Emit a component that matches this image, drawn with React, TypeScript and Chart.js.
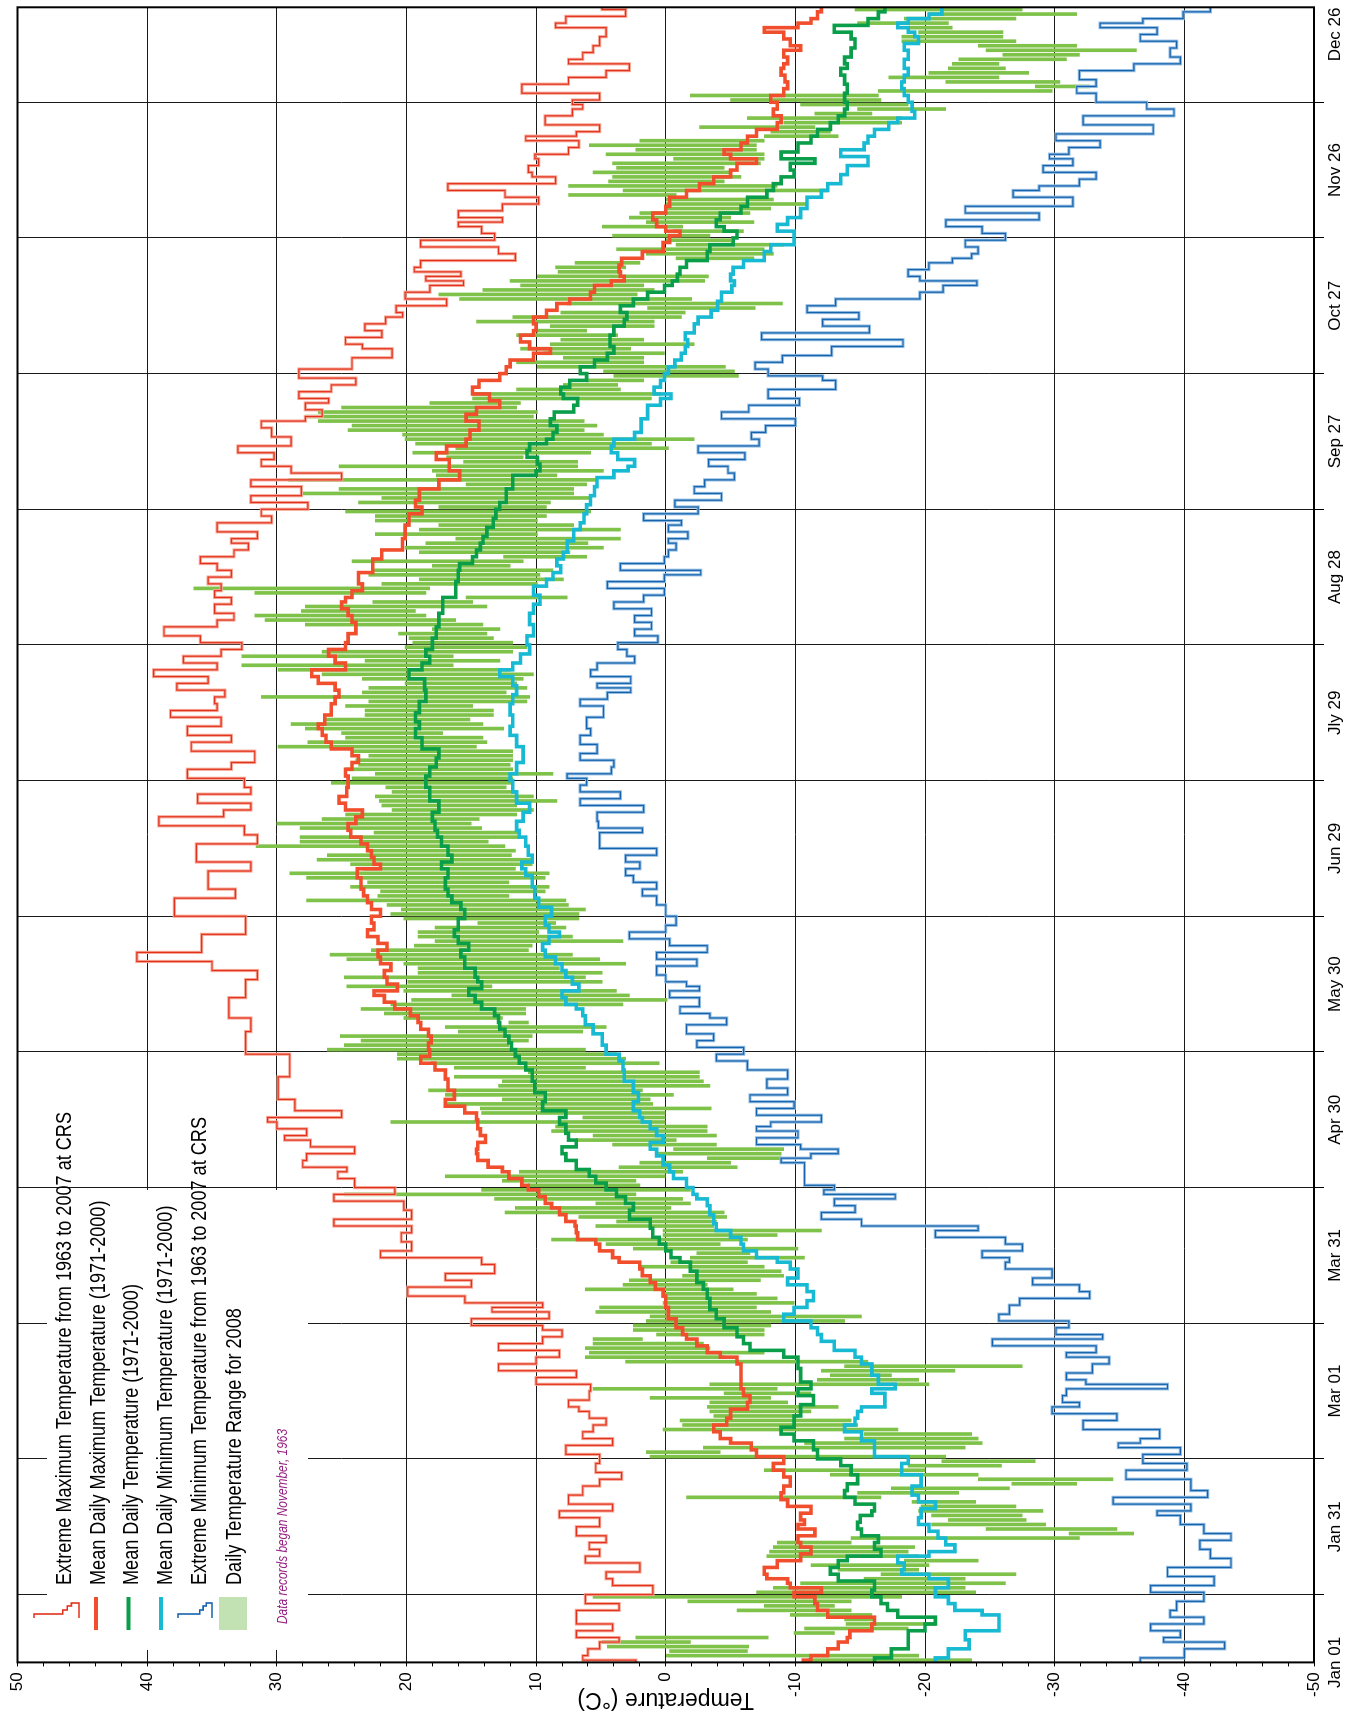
import React, { useEffect, useRef } from 'react';
import { Chart, registerables } from 'chart.js';

Chart.register(...registerables);

// ---- canvas (landscape; the whole chart is rotated -90deg on the page) ----
const W = 1714;
const H = 1355;

// ---- axes ----
const dateTickDays = [0, 30, 60, 90, 120, 150, 180, 210, 240, 270, 300, 330, 360];
const dateLabels = ['Jan 01', 'Jan 31', 'Mar 01', 'Mar 31', 'Apr 30', 'May 30', 'Jun 29', 'Jly 29', 'Aug 28', 'Sep 27', 'Oct 27', 'Nov 26', 'Dec 26'];
const dayMax = 366;
const tempMin = -50;
const tempMax = 50;
const tempMajorStep = 10;
const tempMinorStep = 2;
const yTitle = 'Temperature (°C)';

// ---- legend ----
const legendLabels = [
  'Extreme Maximum Temperature from 1963 to 2007 at CRS',
  'Mean Daily Maximum Temperature (1971-2000)',
  'Mean Daily Temperature (1971-2000)',
  'Mean Daily Minimum Temperature (1971-2000)',
  'Extreme Minimum Temperature from 1963 to 2007 at CRS',
  'Daily Temperature Range for 2008',
];
const noteText = 'Data records began November, 1963';

// ---- series: [day of year (0 = Jan 01), °C] ----
const meanMax: [number, number][] = [
  [0,-10.6],[1,-11.2],[2,-12.5],[4,-13.3],[5,-14],[6,-14.2],[8,-15.9],[9,-16.1],[11,-12.5],[12,-11.7],[14,-11.5],[15,-9.9],[16,-12],[17,-9.6],[18,-9.4],[19,-7.8],[20,-7.6],[22,-8.6],[23,-10.4],[25,-11.2],[26,-10.4],[27,-10.2],[29,-11.5],[30,-10.2],[31,-10.7],[32,-10.4],[34,-11.2],[35,-9.4],[37,-8.9],[38,-9.1],[40,-9.6],[42,-9.1],[43,-8.3],[45,-9.1],[46,-7],[48,-6.6],[49,-5],[50,-4.2],[52,-3.7],[53,-4.7],[55,-5],[57,-6.3],[58,-6.5],[60,-6],[61,-5.8],[65,-5.8],[67,-5.5],[68,-4.2],[69,-3.2],[71,-2.4],[72,-1.6],[73,-1.3],[75,-0.8],[77,-0.2],[80,0],[82,0.2],[83,0.8],[85,1.2],[86,1.8],[88,2],[89,3.6],[90,4.1],[92,5.1],[93,5.4],[94,6.8],[96,6.9],[97,7],[98,7.7],[100,8.2],[101,8.8],[102,9.3],[104,9.8],[105,10.6],[106,11.1],[108,12.1],[109,12.6],[110,13.7],[112,14.5],[113,14.6],[114,14.5],[116,13.9],[117,14.3],[119,14.5],[121,14.6],[122,15.5],[124,17],[125,16.3],[128,16.8],[130,17],[132,17.8],[133,18.9],[135,18.2],[136,18.3],[138,18.1],[139,18.3],[141,18.9],[142,19.1],[144,19.7],[145,20.9],[147,21.7],[148,22.5],[149,20.7],[151,21.5],[152,21.7],[154,21.2],[155,22],[157,22.2],[158,21.5],[160,22.2],[161,23],[163,22.5],[164,22.7],[166,22],[167,22.7],[169,23],[170,23.3],[172,23.5],[175,23.8],[176,22],[177,22.5],[179,22.7],[180,23],[182,23.5],[183,24.3],[185,24.5],[186,23.9],[188,23.4],[189,24.7],[191,25.2],[192,24.6],[195,24.5],[197,24.7],[198,24.2],[200,23.7],[201,24.2],[203,25.8],[204,26.2],[206,26.5],[207,26.8],[208,26.3],[211,25.8],[213,25.5],[214,25.2],[216,25.5],[217,26.8],[219,27.3],[220,24.7],[222,25.5],[223,26],[225,24.7],[226,24.5],[229,23.9],[231,24.2],[232,24.5],[234,25],[235,24.7],[236,24.2],[238,23.4],[239,23.7],[243,22.6],[245,21.9],[247,20.3],[250,20.1],[253,19.8],[255,18.8],[256,19.3],[258,19],[261,17.5],[262,15.9],[265,16.7],[267,17.7],[268,16.9],[270,15.4],[271,15.1],[274,14.4],[275,15.4],[277,14.6],[278,12.8],[280,13.6],[281,14.9],[283,14.4],[284,12.8],[286,12.3],[287,12],[289,10.2],[290,8.9],[291,10.5],[293,11.2],[294,10.2],[295,10],[297,10.2],[298,9.2],[300,8.4],[301,7.4],[302,5.8],[304,5.5],[305,4.2],[306,3.2],[307,3.5],[308,3.6],[310,3.4],[311,1.8],[313,0.2],[315,-0.3],[316,-1.1],[317,0],[318,0.7],[320,1],[321,0],[323,-0.3],[325,-1.6],[326,-2.6],[328,-3.7],[329,-5],[331,-5.5],[332,-7],[333,-5],[334,-4.5],[335,-5.8],[337,-6.3],[338,-7],[340,-8.6],[341,-8.9],[343,-8.3],[344,-8.6],[346,-8.1],[347,-9.1],[349,-9.4],[350,-9.2],[352,-8.9],[353,-9.1],[354,-9.4],[356,-9.1],[357,-10.4],[358,-9.6],[360,-9.1],[361,-7.6],[362,-10.2],[363,-11.2],[364,-11.7],[366,-12],
];

const meanDaily: [number, number][] = [
  [0,-16.1],[2,-17.4],[4,-18.7],[6,-18.7],[8,-20],[9,-20.8],[11,-17.9],[12,-17.1],[14,-16.6],[15,-15.9],[17,-16.1],[19,-13.3],[20,-12.7],[22,-13.3],[23,-14],[24,-16.6],[26,-16.1],[27,-16.4],[29,-15.1],[30,-14.8],[32,-15],[33,-15.9],[34,-16.1],[36,-14.6],[37,-13.8],[39,-14],[40,-14.8],[43,-14.3],[44,-13.5],[46,-11.7],[48,-11.4],[50,-9.9],[51,-8.9],[53,-9.9],[56,-10.4],[58,-11.4],[60,-10.2],[61,-11.2],[63,-10.4],[67,-10.2],[68,-9.1],[70,-6.5],[71,-6],[73,-5.5],[75,-4.5],[77,-3.9],[79,-3.4],[82,-3.2],[83,-2.9],[85,-2.4],[88,-1.9],[89,-1.1],[90,-0.4],[92,0],[93,0.5],[95,1],[97,1.2],[99,2.8],[101,2.5],[102,3.1],[104,3.8],[105,4.6],[107,5.4],[108,5.9],[110,6.9],[112,7.7],[113,8],[115,6.9],[116,7.5],[118,7.7],[120,8.2],[121,7.7],[123,9.5],[125,9.3],[127,10.1],[130,10.3],[132,10.8],[133,11.3],[135,11.6],[136,11.9],[138,12.1],[139,12.4],[141,12.8],[142,12.9],[144,13.2],[145,14.2],[147,14.7],[148,15.2],[150,14.2],[151,14.5],[152,14.7],[155,15.5],[157,15.8],[158,15.2],[160,16],[161,16.3],[163,16],[166,15.5],[167,15.8],[169,16.5],[170,16.8],[172,17],[175,16.8],[176,17.3],[178,16.5],[179,16.8],[182,17.3],[183,17.6],[185,17.8],[187,18],[189,17.5],[192,18.2],[195,18.5],[197,18.2],[199,17.7],[201,17.5],[203,18.8],[206,19.3],[207,19],[209,19.3],[211,19],[214,18.5],[216,18.6],[219,19.8],[220,18.8],[222,18.2],[223,18.5],[225,18],[228,17.7],[230,17.5],[234,17.2],[237,16.2],[241,16],[242,15.9],[244,14.9],[245,14.6],[247,14.3],[248,14.1],[250,13.8],[252,13.3],[254,13.1],[256,12.8],[257,12.3],[262,11.8],[263,10],[264,9.7],[266,9.9],[267,10.7],[269,10.5],[270,9.2],[271,8.7],[273,8.4],[274,8.9],[276,8.6],[277,7.1],[279,6.8],[280,7.9],[281,8.1],[283,7.4],[284,6.1],[286,6.6],[287,5.5],[289,4.5],[290,4],[292,4.3],[295,4],[296,3.2],[298,3],[299,3.5],[301,2.5],[302,1.4],[304,0.1],[305,-0.5],[306,-0.9],[308,-1.1],[309,-1.6],[311,-3.2],[313,-3.4],[314,-5.2],[316,-5.5],[317,-4.5],[318,-3.9],[320,-4.2],[321,-5.8],[323,-6.3],[325,-7.8],[326,-8.3],[328,-8.9],[329,-9.9],[331,-9.6],[332,-11.5],[333,-8.9],[335,-10.2],[337,-11.2],[338,-11.7],[340,-12.7],[341,-13.3],[343,-13.8],[344,-14],[346,-13.8],[348,-14],[350,-13.8],[352,-13.5],[353,-14],[354,-13.8],[356,-14.3],[358,-14.6],[360,-14.3],[361,-13],[363,-15.6],[364,-16.4],[366,-16.9],
];

const meanMin: [number, number][] = [
  [0,-20.8],[2,-21.8],[4,-23.4],[6,-23.1],[8,-25.7],[10,-25.7],[11,-24.4],[12,-22.3],[14,-21.8],[15,-20.8],[18,-21.8],[19,-20.3],[20,-18.2],[21,-18.4],[23,-17.9],[24,-20.3],[25,-22.3],[27,-21.6],[28,-21],[30,-20.3],[31,-19.5],[33,-19.7],[35,-20.8],[36,-19.5],[38,-19],[40,-19.7],[43,-18.2],[45,-18.7],[46,-16.1],[48,-16.1],[50,-15.1],[52,-13.8],[53,-14.6],[55,-14.8],[56,-15.1],[57,-16.9],[59,-16.9],[60,-15.9],[61,-17.7],[62,-16.4],[65,-15.9],[67,-15.1],[68,-14.6],[70,-13],[72,-12],[73,-11.7],[75,-11.2],[76,-9.1],[78,-9.9],[79,-10.9],[81,-11.4],[83,-10.9],[84,-9.4],[86,-10.2],[88,-9.6],[89,-8.6],[90,-7],[92,-6],[93,-5.8],[95,-5],[96,-3.9],[98,-3.7],[100,-3.4],[102,-3.2],[103,-2.4],[104,-2.1],[106,-1.6],[108,-0.6],[109,-0.3],[111,0.2],[113,0.7],[114,1.2],[116,0.2],[117,0.7],[119,1.2],[120,1.8],[121,2],[123,2.5],[125,2.1],[127,2.5],[130,3.2],[132,3.3],[134,3.6],[135,4.6],[138,4.9],[140,5.6],[142,6.2],[144,6.4],[145,6.9],[146,7.7],[148,8],[149,6.7],[151,7.2],[152,7.7],[154,8],[155,8.5],[157,9.3],[158,9.5],[160,9],[161,8.2],[162,9],[164,9.3],[166,8.8],[168,9.8],[170,10.1],[173,10.3],[175,10.8],[176,11.1],[178,10.3],[179,10.6],[182,10.8],[183,11.3],[185,11.5],[187,11],[189,10.5],[191,11.5],[194,11.8],[196,12],[197,11.5],[201,11],[204,11.5],[206,12],[208,11.8],[211,12],[213,11.8],[215,11.5],[217,11.8],[219,12.8],[220,11.8],[222,11.2],[224,10.5],[226,10.7],[228,10.2],[231,10.5],[233,10.2],[235,9.7],[237,10.2],[239,9.2],[240,8.7],[242,8.1],[243,8.4],[245,7.9],[246,7.6],[250,7.1],[251,6.6],[253,6.3],[255,6.1],[257,5.8],[259,5.5],[261,5.3],[263,4],[264,2.9],[265,2.4],[267,3.7],[268,4.2],[270,4],[271,2.4],[273,1.9],[277,1.4],[279,0.4],[280,-0.4],[281,0.9],[283,0.4],[284,0.1],[286,-0.2],[287,-0.7],[289,-1.2],[290,-1.5],[292,-1.7],[293,-1.5],[295,-2.2],[297,-2.5],[298,-3.5],[300,-4],[302,-4.3],[304,-5.1],[305,-5.3],[306,-5],[308,-5.2],[309,-6],[311,-7.6],[313,-8.1],[314,-9.9],[316,-9.9],[317,-8.6],[319,-9.4],[320,-10.4],[323,-10.9],[325,-12],[326,-12.5],[328,-13.5],[330,-14],[332,-15.6],[334,-13.5],[335,-15.3],[337,-15.6],[338,-16.1],[340,-17.2],[341,-17.9],[342,-19.2],[344,-19],[346,-18.7],[347,-18.4],[349,-18.2],[350,-18.4],[352,-18.7],[353,-18.4],[356,-18.7],[357,-18.4],[359,-19.5],[360,-19.2],[361,-18.7],[362,-17.9],[363,-18.7],[364,-20.3],[365,-21.3],[366,-21.3],
];

const extremeMax: [number, number][] = [
  [0,2.3],[1,6.4],[2,6],[4,5.1],[5,3.6],[6,6.9],[8,4.1],[9,6.9],[11,6.9],[12,3.6],[14,6.2],[16,1],[18,4.1],[19,4.6],[21,2],[23,6.2],[24,5.1],[26,5.9],[27,4.6],[29,6.9],[31,5.1],[33,8.2],[34,4.1],[36,7.5],[38,6.4],[40,5.1],[41,3.4],[43,5.4],[45,5.1],[47,7.7],[49,4.1],[50,6.4],[52,5.6],[53,4.6],[55,5.9],[56,6.7],[57,7.5],[59,5.9],[61,5.8],[62,10],[64,6.9],[65,12.9],[67,10],[68,8.2],[70,12.9],[71,9.5],[73,8],[74,9.5],[75,15],[77,9],[78,13.4],[79,9.5],[80,15.5],[82,19.9],[84,15],[85,17],[87,13.2],[89,14.2],[90,22],[92,19.6],[94,20.4],[96,19.6],[97,25.6],[99,19.6],[101,20.2],[103,25.6],[104,20.9],[106,24],[108,25.3],[109,24.6],[110,28],[112,27.7],[113,24],[115,27.4],[116,29.4],[117,27.7],[119,30],[120,30.7],[121,25],[123,28.6],[126,29.9],[128,29.9],[131,29],[133,29],[136,32.4],[138,32.4],[141,32],[144,33.7],[146,33.7],[148,32.4],[150,32.4],[152,31.5],[154,35],[156,40.8],[158,35.8],[160,35.8],[162,32.4],[164,32.4],[166,37.9],[168,37.9],[170,33.2],[172,35.3],[174,35.3],[176,32],[178,36.2],[180,36.2],[182,31.5],[184,32.5],[186,39.1],[188,34.1],[189,32],[191,36.1],[193,32],[194,32.5],[197,36.9],[198,33.5],[200,31.7],[203,36.6],[204,33.5],[206,36.9],[208,34.3],[210,38.2],[211,34.6],[213,34.8],[214,34],[216,37.7],[217,35.3],[219,39.5],[220,34.6],[222,37.2],[223,34.3],[225,32.7],[226,35.9],[228,38.7],[230,34.6],[231,33.3],[233,34.8],[235,33.5],[236,34.8],[238,34.3],[239,35.3],[241,33.5],[242,34.6],[244,35.9],[245,33.3],[247,32.2],[248,33.5],[249,31.5],[251,34.6],[253,30.4],[254,31.2],[256,27.6],[257,32],[259,28.1],[261,32],[262,25],[264,28.9],[265,31.2],[267,30.2],[268,33],[270,28.9],[272,30.4],[274,31.2],[275,27.8],[276,26.5],[278,27.8],[279,26],[280,28.3],[282,25.8],[283,23.9],[285,28.3],[287,24.2],[290,21.1],[291,23.4],[292,24.7],[294,21.9],[295,23.2],[297,21.6],[298,20.3],[299,20.8],[301,16.9],[302,20.1],[304,18.2],[305,15.6],[306,18.5],[307,15.8],[308,19.4],[309,18.9],[311,11.6],[312,12.9],[314,18.9],[315,13.2],[317,14.2],[318,16],[319,12.6],[320,16],[322,12.6],[323,9.8],[325,12.4],[326,16.8],[328,8.5],[329,10.3],[330,10.6],[332,9.8],[333,10.1],[334,7.5],[336,6.7],[337,10.8],[338,6.9],[339,5.1],[341,9.3],[343,7.2],[344,6.4],[345,7.2],[346,5.1],[348,11.1],[350,7.5],[351,4.6],[353,2.8],[354,7.5],[355,6.4],[357,5.6],[358,5.1],[361,4.6],[362,8.5],[363,7.7],[365,3.1],[366,4.9],
];

const extremeMin: [number, number][] = [
  [0,-36.6],[2,-40],[4,-43.1],[5,-38.4],[6,-39.7],[8,-37.4],[9,-41.5],[11,-38.9],[12,-39.4],[15,-41.5],[16,-37.4],[18,-42.3],[20,-38.7],[22,-43.6],[24,-42],[26,-41.2],[28,-43.6],[29,-41.5],[32,-39.7],[33,-37.9],[34,-40.5],[36,-34.5],[37,-41.8],[39,-40.5],[42,-35.5],[43,-40.2],[45,-36.8],[47,-39.7],[48,-34.9],[49,-36.6],[50,-38.1],[53,-32.2],[54,-34.8],[56,-29.8],[57,-31.9],[58,-30.6],[60,-30.9],[61,-38.7],[62,-32.4],[63,-30.9],[65,-32.9],[67,-34.2],[68,-30.9],[69,-33.2],[71,-25.2],[72,-33.7],[73,-30.1],[75,-31.1],[76,-25.7],[78,-26.5],[80,-27.3],[81,-32.7],[83,-31.9],[84,-28.3],[86,-29.8],[88,-26.2],[89,-26.5],[90,-24.4],[92,-27.5],[93,-26.2],[95,-20.8],[96,-24.1],[97,-15.1],[99,-12],[100,-14.6],[102,-13],[103,-17.7],[104,-12.2],[105,-13],[106,-10.7],[110,-10.7],[111,-8.9],[112,-11.2],[113,-13.3],[114,-10.4],[115,-7],[117,-10.2],[118,-7],[119,-8.1],[120,-12],[122,-7],[123,-9.9],[125,-6.5],[126,-9.4],[128,-7.8],[130,-9.4],[132,-6.3],[134,-3.9],[135,-6],[137,-2.4],[138,-3.7],[140,-1.6],[142,-4.7],[143,-3.4],[144,-1.1],[146,-2.6],[148,-0.3],[149,-2.6],[150,-1.6],[151,0],[153,0.7],[155,-2.4],[156,0.7],[158,-3.2],[159,-0.3],[161,2.8],[162,0],[164,-0.8],[166,0],[169,0.7],[170,1.8],[172,0.7],[173,2.5],[175,3.1],[176,2],[178,3.1],[179,0.7],[181,5.1],[183,5.1],[184,1.8],[185,5.2],[187,5.3],[189,1.7],[190,6.6],[192,3.5],[193,6.6],[195,6.1],[196,7.6],[197,4.2],[199,4],[200,6.6],[202,5.3],[204,6.6],[206,5.8],[207,6.1],[211,4.8],[212,6.6],[214,4.5],[215,2.7],[216,5.3],[217,2.7],[219,5.8],[220,5.3],[222,2.4],[223,3],[225,3.7],[226,0.6],[228,2.4],[229,1.1],[231,2.4],[232,1.1],[234,4],[235,1.7],[237,0.1],[238,4.5],[240,0.1],[241,-2.7],[242,3.5],[244,0.1],[245,-0.2],[247,-0.8],[248,-0.2],[249,-1.7],[251,-0.2],[252,-1.2],[253,1.7],[255,-2.5],[256,-0.7],[258,-4.3],[259,-2.2],[261,-3],[262,-5.3],[264,-4.8],[265,-3.3],[267,-6.1],[268,-2.5],[270,-7.2],[271,-6.6],[273,-7.7],[274,-10],[276,-4.3],[277,-6.4],[279,-10.3],[280,-7.9],[283,-13.1],[284,-12.1],[285,-7.9],[287,-6.9],[288,-9],[290,-12.8],[292,-18.3],[293,-7.4],[295,-15.7],[296,-12.1],[298,-14.9],[299,-10.9],[301,-13.1],[302,-19.6],[304,-21.4],[305,-24],[306,-19.6],[307,-18.7],[309,-20.3],[310,-22.1],[311,-23.6],[312,-24.1],[314,-23.1],[315,-26.2],[317,-24.4],[318,-21.6],[320,-28.8],[321,-23.1],[323,-31.4],[325,-26.8],[326,-28.8],[327,-31.9],[329,-33.2],[330,-29.1],[332,-31.4],[333,-29.6],[334,-31.1],[336,-33.5],[337,-30.1],[339,-37.6],[341,-32.2],[343,-39.2],[344,-37.1],[346,-33.2],[348,-31.7],[349,-33.2],[351,-31.9],[353,-36.1],[354,-39.7],[356,-38.9],[358,-39.4],[359,-36.6],[361,-37.9],[362,-33.5],[363,-36.8],[364,-39.9],[366,-42],
];

// 2008 daily range: [day, high, low]
const range2008: [number, number, number][] = [
  [0,-11,-23.6],[1,0,-19.5],[2,-0.3,-6.3],[3,4.5,-6.4],[4,4.9,-1.9],[5,2.3,-7.9],[6,-9.9,-13],[7,-10.7,-18.7],[8,-13.9,-20.8],[9,-13.8,-16.1],
  [10,-9.6,-15.9],[11,-5.5,-14.3],[12,-7.6,-13],[13,-1.7,-14.3],[14,5.6,-18.2],[15,-7,-23.9],[16,-8.3,-23.1],[17,-10.4,-26.2],[18,-15.3,-23.1],[19,-16.6,-27],
  [20,-13.3,-19.5],[21,-11.2,-20.3],[22,-18.4,-24.1],[23,-7.8,-19.5],[24,-8,-18.7],[25,-8.3,-19.2],[26,-8.6,-14.3],[27,-14.3,-31.9],[28,-31.1,-36.1],[29,-24.7,-34.8],
  [30,-20.5,-29.3],[31,-21.8,-27.8],[32,-20.5,-27.5],[33,-19.5,-29.1],[34,-19.7,-27],[35,-19,-23.9],[36,-1.6,-16.6],[37,-14.8,-22.6],[38,-17.4,-26.5],[39,-26.7,-31.7],
  [40,-24.1,-34.5],[41,-12.7,-24.1],[42,-7.6,-20],[43,-18.7,-25.9],[44,-21.3,-28.5],[45,1.2,-21.6],[46,1.5,-4.2],[47,-2.9,-23.1],[48,-10.7,-24.4],[49,-13.8,-24.1],
  [50,-15.3,-23.6],[51,0.2,-17.9],[52,-1.3,-14.8],[53,-1.1,-14.3],[54,-3.7,-10.2],[55,-3.4,-11.2],[56,-3.2,-13.3],[57,-3.4,-9.4],[58,1.2,-8.1],[59,-4.5,-11.2],
  [60,5.6,-8.6],[61,-3.4,-20.3],[62,-11.7,-19.5],[63,-12.7,-17.4],[64,-12,-22.3],[65,-13.8,-27.5],[66,3.1,-15.6],[67,6.2,-4.5],[68,5.9,-7.6],[69,6.2,-3.4],
  [70,5.6,-2.9],[71,5.6,1.8],[72,0.7,-7.6],[73,2.5,-7.6],[74,2.5,-8.1],[75,1.5,-13.8],[76,1.2,-15.1],[77,5.4,-8.1],[78,5.1,-7],[79,0.2,-9.9],
  [80,0,-8.6],[81,0.2,-7],[82,6.2,-5.2],[83,3.3,-3.2],[84,2.8,-7.3],[85,-1.3,-9.1],[86,-1.9,-8.9],[87,2,-7.6],[88,-0.4,-6.3],[89,-1.9,-10.7],
  [90,-2.4,-6.5],[91,2.5,-10.2],[92,4.6,-4.2],[93,8.8,-6.3],[94,0.2,-8.6],[95,0.2,-12],[96,5.4,-3.7],[97,3.8,-3.9],[98,6.7,-4.7],[99,12.4,-4.5],
  [100,11.6,-0.4],[101,5.4,-1.9],[102,13.2,-1.3],[103,24.8,2.3],[104,14.2,-1.9],[105,10.6,2],[106,12.6,2.3],[107,17,0],[108,11.3,-1.3],[109,3.6,-5.5],
  [110,2,-5],[111,-3.2,-8.9],[112,0.7,-8.9],[113,-0.6,-9.1],[114,4.1,-3.9],[115,6.9,-0.8],[116,5.6,-3.9],[117,8.8,-3.2],[118,8.5,-3.2],[119,21.2,0],
  [120,6.4,0],[121,14.2,0],[122,14.3,-3.5],[123,17,1],[124,12.6,1.2],[125,17,-0.6],[126,18.3,1.8],[127,12.9,-3.4],[128,12.6,-2.9],[129,16.3,-2.6],
  [130,10.6,-2.6],[131,16.3,6.2],[132,18.1,0.5],[133,20.7,3.1],[134,20.7,3.8],[135,26.1,6.2],[136,24.8,12.1],[137,23.5,10.6],[138,25.1,10.3],[139,16,6.4],
  [140,17,4.6],[141,12.1,10.6],[142,20.2,12.6],[143,21.7,10.8],[144,23.5,10.8],[145,21.2,3.3],[146,19.6,-0.1],[147,16.5,2.8],[148,20.2,3.8],[149,24.6,13.4],
  [150,19.9,4.9],[151,24.8,6.2],[152,19.1,4.9],[153,19.1,8.2],[154,20.2,3.1],[155,24.6,5.1],[156,25.9,7.2],[157,22.7,10.6],[158,19.4,10.3],[159,17.8,3.3],
  [160,19.1,7.2],[161,19.1,9.8],[162,17.8,7.7],[163,14.5,8.5],[164,20.2,6.7],[165,21.2,6.7],[166,20.4,6.2],[167,21.5,7.5],[168,27.7,7.7],[169,22.2,12.1],
  [170,22,9.3],[171,24.3,9],[172,23,12.1],[173,27.7,9.3],[174,29,9],[175,23.3,11.6],[176,24.3,10.3],[177,26.9,10.3],[178,26.1,11.9],[179,23,11.6],
  [180,31.6,12.4],[181,28.2,13.7],[182,28.2,11.3],[183,22.5,11.3],[184,28.2,14.2],[185,30,15],[186,26.5,14.4],[187,24.7,11.5],[188,21.1,10.2],[189,21.9,11.5],
  [190,22.1,8.4],[191,22.4,10.2],[192,21.1,11.5],[193,21.6,12.3],[194,25.8,11.8],[195,24.2,11.8],[196,22.4,8.7],[197,24.7,11.8],[198,23.7,12],[199,23.9,11.8],
  [200,22.9,11.8],[201,24.2,11.8],[202,29.9,14.6],[203,27.6,13.8],[204,24.7,14.1],[205,25,17.2],[206,27.8,12.5],[207,28.9,14.1],[208,26.3,15.1],[209,23.2,13.3],
  [210,23.2,13.3],[211,24.7,14.9],[212,22.9,10.7],[213,31.2,10.5],[214,23.4,12.3],[215,22.9,10.7],[216,20.1,11.5],[217,23.4,11],[218,26.5,10.2],[219,29.9,12],
  [220,32.7,16.4],[221,23.2,12.8],[222,32.7,16.4],[223,26.5,11.8],[224,20.1,10.7],[225,19.5,11.8],[226,19.8,13.3],[227,20.6,13.8],[228,18,12.8],[229,27.8,14.1],
  [230,30.9,16.2],[231,31.7,18.5],[232,28.1,19.3],[233,27.8,13.8],[234,22.6,14.9],[235,15.4,7.6],[236,31.7,18.5],[237,36.4,18.2],[238,21.9,9.9],[239,19,7.9],
  [240,22.9,9.7],[241,22.6,8.7],[242,18,12],[243,24.2,11],[244,12.5,6.1],[245,19,7.4],[246,20.1,4.8],[247,18.5,6],[248,16.2,3.5],[249,22.4,9.9],
  [250,19,3.5],[251,17.5,7.1],[252,22.4,9.9],[253,22.4,9.2],[254,24.7,5.8],[255,17.5,9.2],[256,23.7,8.9],[257,21.9,5.8],[258,28.1,7.1],[259,25.2,7.1],
  [260,15.4,6.1],[261,29.1,5.3],[262,17.7,8.4],[263,18,4.8],[264,25.2,6.8],[265,15.6,6.8],[266,16.9,11],[267,19.5,5.8],[268,16.2,-0.2],[269,19.3,1.1],
  [270,20.1,-2.2],[271,20.3,4.8],[272,24.5,6.3],[273,24.2,5.3],[274,26.8,6.3],[275,27.8,10.2],[276,26.8,9.9],[277,25,11.5],[278,18.2,11.2],[279,14.9,1.1],
  [280,14.9,0.4],[281,11.5,3.5],[282,7.9,3.7],[283,6.1,1.7],[284,4,-5.6],[285,4.8,-5.3],[286,9.9,-4.6],[287,11.5,1.7],[288,7.9,1.7],[289,9.4,0.1],
  [290,11.2,2.7],[291,8.9,-2.2],[292,8.1,1.7],[293,11.5,3.7],[294,9.9,6.1],[295,8.9,0.9],[296,14.6,0.9],[297,11.8,-1.2],[298,8.1,-1.5],[299,1.4,-6.9],
  [300,7.6,-9],[301,15.9,-2],[302,17.5,2.2],[303,14.1,0.9],[304,11.2,1.7],[305,12,-3],[306,9.9,-3.3],[307,8.3,3.5],[308,8.5,3.1],[309,7,2],
  [310,-0.8,-6.8],[311,1.5,-8.3],[312,3.8,-7.6],[313,-0.8,-9.1],[314,0,-5],[315,4.1,-3.4],[316,-0.6,-6],[317,4.9,-1.3],[318,1.5,-6.8],[319,2.8,-5],
  [320,2,-6.5],[321,0,-8.1],[322,0,-10.9],[323,0,-8.3],[324,7.5,-0.8],[325,3.3,-12.5],[326,7.5,-8.6],[327,4.4,-4.5],[328,4.1,-5.8],[329,5.6,-5],
  [330,3.8,-4.5],[331,4.1,-7.3],[332,-0.6,-7.6],[333,4.6,-7.6],[334,2.3,-7],[335,5.9,-7],[336,2,-7.6],[337,-7.6,-13.3],[338,-8.1,-12.7],[339,-2.6,-11.5],
  [340,-9.1,-18.2],[341,-6.3,-18.2],[342,-11.5,-15.9],[343,-14.8,-21.6],[344,-10.4,-18.7],[345,-5,-16.6],[346,-1.9,-16.4],[347,-16.4,-29.8],[348,-28.5,-32.7],[349,-21.6,-30.4],
  [350,-17.2,-25.7],[351,-20.3,-28],[352,-21.8,-26.2],[353,-22.1,-25.7],[354,-22.6,-30.9],[355,-26,-31.9],[356,-24.7,-36.3],[357,-24.1,-31.7],[358,-18.2,-27],[359,-18.2,-26],
  [360,-19.5,-26],[361,-18.7,-22.1],[362,-14.8,-21.8],[363,-18.4,-27],[364,-20.3,-31.7],[365,-14.6,-27.5],
];

// ---- styles ----
const C = {
  extMax: '#E2321D',
  extMaxHalo: '#F6A897',
  meanMax: '#F04E2D',
  mean: '#0A9E4A',
  meanMin: '#17B9D3',
  extMin: '#1563AC',
  extMinHalo: '#92BCE2',
  bar: '#7FC24A',
  legendBox: '#C2E2B3',
  note: '#952184',
  grid: '#1a1a1a',
};
const NARROW = "'Liberation Sans Narrow', 'Arial Narrow', 'Liberation Sans', Arial, sans-serif";
const REGULAR = "'Liberation Sans', Arial, sans-serif";

const toXY = (arr: [number, number][]) => arr.map(([x, y]) => ({ x, y }));

const lineDs = (label: string, data: [number, number][], color: string, width: number, order: number) => ({
  type: 'line' as const,
  label,
  data: toXY(data),
  borderColor: color,
  backgroundColor: color,
  borderWidth: width,
  pointRadius: 0,
  stepped: 'middle' as const,
  fill: false,
  tension: 0,
  order,
  borderJoinStyle: 'miter' as const,
});

function drawStepIcon(ctx: CanvasRenderingContext2D, color: string, top: number, bottom: number) {
  const h = bottom - top;
  const pts: [number, number][] = [
    [96, top], [100, top], [100, top + 0.64 * h], [104, top + 0.64 * h], [104, top + 0.74 * h],
    [108, top + 0.74 * h], [108, top + 0.83 * h], [111, top + 0.83 * h], [111, bottom], [96, bottom],
  ];
  ctx.save();
  ctx.strokeStyle = color;
  ctx.lineWidth = 1.6;
  ctx.beginPath();
  pts.forEach(([x, y], i) => (i === 0 ? ctx.moveTo(x, y) : ctx.lineTo(x, y)));
  ctx.stroke();
  ctx.restore();
}

const overlayPlugin = {
  id: 'overlay',
  beforeDatasetsDraw(chart: any) {
    const { ctx, chartArea: a } = chart;
    ctx.save();
    ctx.fillStyle = '#ffffff';
    const x0 = a.left + 12.5;
    const y0 = a.top + 29.5;
    ctx.fillRect(x0, y0, 524 - x0, 308 - y0);
    ctx.restore();
  },
  afterDraw(chart: any) {
    const { ctx, chartArea: a } = chart;
    ctx.save();
    // plot frame
    ctx.strokeStyle = '#000';
    ctx.lineWidth = 2;
    ctx.strokeRect(a.left, a.top, a.right - a.left, a.bottom - a.top);

    // axis title
    ctx.save();
    ctx.translate(15, (a.top + a.bottom) / 2);
    ctx.rotate(-Math.PI / 2);
    ctx.font = `23px ${REGULAR}`;
    ctx.fillStyle = '#000';
    ctx.textAlign = 'center';
    ctx.textBaseline = 'middle';
    ctx.fillText(yTitle, 0, 0);
    ctx.restore();

    // legend text (condensed look)
    ctx.font = `22px ${NARROW}`;
    const measured = ctx.measureText(legendLabels[0]).width;
    const sx = measured > 500 ? 473 / measured : 1;
    const baselines = [70.7, 104.5, 138.4, 172.4, 206.4, 240.7];
    ctx.fillStyle = '#000';
    ctx.textBaseline = 'alphabetic';
    ctx.textAlign = 'left';
    legendLabels.forEach((t, i) => {
      ctx.save();
      ctx.translate(129, baselines[i]);
      ctx.scale(sx, 1);
      ctx.fillText(t, 0, 0);
      ctx.restore();
    });

    // legend symbols
    drawStepIcon(ctx, C.extMax, 34, 79);
    const lineSym = (color: string, y: number) => {
      ctx.save();
      ctx.strokeStyle = color;
      ctx.lineWidth = 4;
      ctx.beginPath();
      ctx.moveTo(84, y);
      ctx.lineTo(117, y);
      ctx.stroke();
      ctx.restore();
    };
    lineSym(C.meanMax, 96);
    lineSym(C.mean, 128.5);
    lineSym(C.meanMin, 161);
    drawStepIcon(ctx, C.extMin, 178, 212);
    ctx.fillStyle = C.legendBox;
    ctx.fillRect(84, 219, 33, 28);

    // note
    ctx.save();
    ctx.font = `italic 14.5px ${NARROW}`;
    const nm = ctx.measureText(noteText).width;
    const nsx = nm > 210 ? 195 / nm : 1;
    ctx.fillStyle = C.note;
    ctx.translate(90, 287);
    ctx.scale(nsx, 1);
    ctx.fillText(noteText, 0, 0);
    ctx.restore();

    ctx.restore();
  },
};

export default function App() {
  const ref = useRef<HTMLCanvasElement>(null);

  useEffect(() => {
    document.documentElement.style.overflow = 'hidden';
    document.body.style.overflow = 'hidden';
    const canvas = ref.current;
    if (!canvas) return;

    const chart = new Chart(canvas, {
      type: 'line',
      data: {
        datasets: [
          lineDs('Mean Daily Maximum', meanMax, C.meanMax, 3.6, 0),
          lineDs('Mean Daily', meanDaily, C.mean, 3.6, 0),
          lineDs('Mean Daily Minimum', meanMin, C.meanMin, 3.6, 0),
          lineDs('Extreme Maximum', extremeMax, C.extMax, 1.2, 1),
          lineDs('Extreme Maximum halo', extremeMax, C.extMaxHalo, 3.2, 2),
          lineDs('Extreme Minimum', extremeMin, C.extMin, 1.2, 1),
          lineDs('Extreme Minimum halo', extremeMin, C.extMinHalo, 3.2, 2),
          {
            type: 'bar' as const,
            label: 'Daily Temperature Range for 2008',
            data: range2008.map(([d, hi, lo]) => ({ x: d + 0.5, y: [lo, hi] })) as any,
            backgroundColor: C.bar,
            borderWidth: 0,
            barThickness: 3,
            order: 10,
          },
        ] as any,
      },
      options: {
        animation: false,
        responsive: false,
        devicePixelRatio: 1,
        layout: { padding: { top: 17.5, right: 7.3, left: 0, bottom: 0 } },
        plugins: { legend: { display: false }, tooltip: { enabled: false } },
        scales: {
          x: {
            type: 'linear',
            min: 0,
            max: dayMax,
            offset: false,
            afterBuildTicks: (scale: any) => {
              scale.ticks = dateTickDays.map((v) => ({ value: v }));
            },
            afterFit: (scale: any) => {
              scale.height = 41;
            },
            ticks: {
              autoSkip: false,
              maxRotation: 0,
              minRotation: 0,
              padding: 1,
              color: '#000',
              font: { family: NARROW, size: 17 },
              callback: (v: any) => {
                const i = dateTickDays.indexOf(Number(v));
                return i >= 0 ? dateLabels[i] : '';
              },
            },
            grid: { color: C.grid, lineWidth: 1, tickColor: '#000', tickLength: 10, drawTicks: true },
            border: { display: false },
          },
          y: {
            type: 'linear',
            min: tempMin,
            max: tempMax,
            afterBuildTicks: (scale: any) => {
              const t = [];
              for (let v = tempMin; v <= tempMax; v += tempMinorStep) t.push({ value: v });
              scale.ticks = t;
            },
            afterFit: (scale: any) => {
              scale.width = 51.6;
            },
            ticks: {
              autoSkip: false,
              padding: 6,
              color: '#000',
              font: { family: NARROW, size: 17 },
              callback: (v: any) => (Number(v) % tempMajorStep === 0 ? String(v) : ''),
            },
            grid: {
              color: (c: any) =>
                c.tick && c.tick.value % tempMajorStep === 0 && Math.abs(c.tick.value) !== 50 ? C.grid : 'rgba(0,0,0,0)',
              lineWidth: 1,
              tickColor: '#000',
              tickLength: 4,
              drawTicks: true,
            },
            border: { display: false },
          },
        },
      } as any,
      plugins: [overlayPlugin],
    });
    return () => chart.destroy();
  }, []);

  return (
    <div
      style={{
        position: 'fixed',
        left: 0,
        top: W,
        width: W,
        height: H,
        transformOrigin: '0 0',
        transform: 'rotate(-90deg)',
        background: '#fff',
      }}
    >
      <canvas ref={ref} width={W} height={H} style={{ display: 'block', width: W, height: H }} />
    </div>
  );
}
